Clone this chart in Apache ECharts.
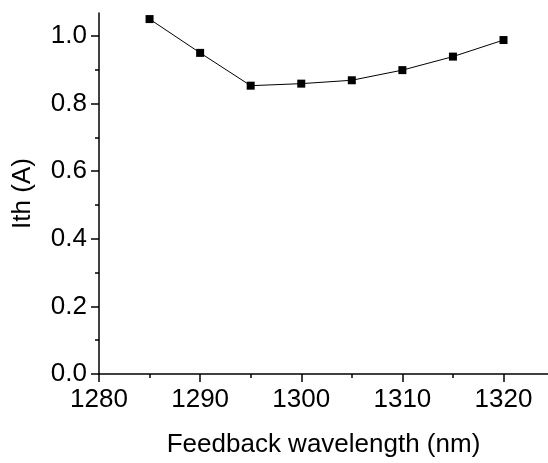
<!DOCTYPE html>
<html><head><meta charset="utf-8">
<script src="https://cdn.jsdelivr.net/npm/echarts@6/dist/echarts.min.js"></script>
<style>html,body{margin:0;padding:0;background:#fff}#c{width:548px;height:463px}</style>
</head><body><div id="c"></div>
<script>
const wavelengths = [1285, 1290, 1295, 1300, 1305, 1310, 1315, 1320];
const ith = [1.05, 0.95, 0.853, 0.859, 0.869, 0.899, 0.939, 0.988];
const xMajorTicks = [1280, 1290, 1300, 1310, 1320];
const xMinorTicks = [1285, 1295, 1305, 1315];
const yMajorTicks = [0, 0.2, 0.4, 0.6, 0.8, 1.0];
const yMinorTicks = [0.1, 0.3, 0.5, 0.7, 0.9];

const font = 'Liberation Sans, Arial, sans-serif';
const black = '#000';
const xMin = 1280, xMax = 1324.4, yMin = 0, yMax = 1.068;

function baseAxis(extra) {
  return Object.assign({
    type: 'value',
    splitLine: { show: false },
    axisLine: { show: true, onZero: false, lineStyle: { color: black, width: 1.5 } },
  }, extra);
}

const chart = echarts.init(document.getElementById('c'), null, { renderer: 'canvas' });
chart.setOption({
  animation: false,
  backgroundColor: '#fff',
  grid: { left: 99, right: 0, top: 13, bottom: 88, containLabel: false },
  xAxis: [
    baseAxis({
      min: xMin, max: xMax,
      name: 'Feedback wavelength (nm)', nameLocation: 'middle', nameGap: 58,
      nameTextStyle: { fontFamily: font, fontSize: 26, color: black },
      axisTick: { show: true, length: 8, customValues: xMajorTicks, lineStyle: { color: black, width: 1.5 } },
      axisLabel: { customValues: xMajorTicks, fontFamily: font, fontSize: 26, color: black, margin: 13,
        formatter: v => String(Math.round(v)) }
    }),
    baseAxis({
      min: xMin, max: xMax, position: 'bottom',
      axisLine: { show: false },
      axisTick: { show: true, length: 4, customValues: xMinorTicks, lineStyle: { color: black, width: 1.5 } },
      axisLabel: { show: false }
    })
  ],
  yAxis: [
    baseAxis({
      min: yMin, max: yMax,
      name: 'Ith (A)', nameLocation: 'middle', nameGap: 63, nameRotate: 90,
      nameTextStyle: { fontFamily: font, fontSize: 26, color: black },
      axisTick: { show: true, length: 8, customValues: yMajorTicks, lineStyle: { color: black, width: 1.5 } },
      axisLabel: { customValues: yMajorTicks, fontFamily: font, fontSize: 26, color: black, margin: 12,
        formatter: v => v.toFixed(1) }
    }),
    baseAxis({
      min: yMin, max: yMax, position: 'left',
      axisLine: { show: false },
      axisTick: { show: true, length: 4, customValues: yMinorTicks, lineStyle: { color: black, width: 1.5 } },
      axisLabel: { show: false }
    })
  ],
  series: [{
    type: 'line',
    data: wavelengths.map((w, i) => [w, ith[i]]),
    symbol: 'rect', symbolSize: 8,
    itemStyle: { color: black },
    lineStyle: { color: black, width: 1 }
  }]
});
</script>
</body></html>
